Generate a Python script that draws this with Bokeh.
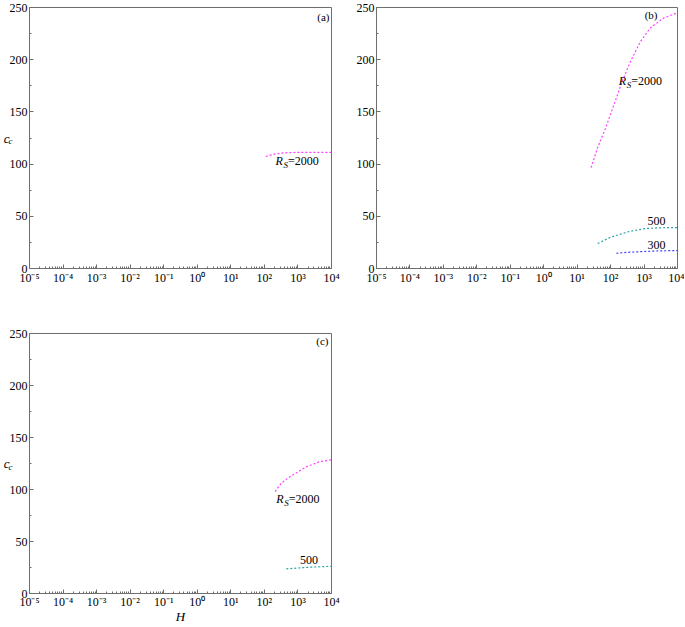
from bokeh.plotting import figure
from bokeh.models import Label, FixedTicker, CustomJSTickFormatter, Range1d, LinearAxis
from bokeh.layouts import column, row
from bokeh.embed import file_html
from bokeh.resources import INLINE

# ---------------- data ----------------
a_H_2000 = [110, 150, 200, 300, 500, 1000, 3000, 10000]
a_cc_2000 = [107.3, 108.6, 109.6, 110.5, 111.0, 111.2, 111.3, 111.3]

b_H_2000 = [26, 41, 72, 126, 224, 398, 794, 1550, 3890, 10000]
b_cc_2000 = [96.6, 115.8, 135.0, 157.0, 179.5, 198.7, 217.8, 230.6, 240.0, 245.0]
b_H_500 = [41, 100, 355, 1100, 3000, 10000]
b_cc_500 = [23.9, 30.0, 35.4, 38.3, 39.0, 39.2]
b_H_300 = [148, 300, 1000, 3000, 10000]
b_cc_300 = [14.6, 15.4, 16.3, 16.9, 17.2]

c_H_2000 = [210, 316, 590, 1820, 4470, 10000]
c_cc_2000 = [98.0, 106.0, 112.5, 122.0, 126.8, 128.5]
c_H_500 = [450, 2000, 10000]
c_cc_500 = [23.7, 25.2, 26.2]

x_decades = list(range(-5, 5))
y_ticks = [0, 50, 100, 150, 200, 250]
y_minor = [25, 75, 125, 175, 225]
panel_names = ["(a)", "(b)", "(c)"]
y_title = ("c", "c")      # main letter, subscript
x_title = "H"

FONT = "Liberation Serif"
AXIS_COL = "#6e6e6e"
MAGENTA = "#FF40FF"
TEAL = "#2AA5A5"
BLUE = "#4040FF"

SUP_CODE = r"""
const sup = {"-": "\u207b", "0": "\u2070", "1": "\u00b9", "2": "\u00b2", "3": "\u00b3",
             "4": "\u2074", "5": "\u2075", "6": "\u2076", "7": "\u2077", "8": "\u2078", "9": "\u2079"};
const e = Math.round(Math.log10(tick));
let s = "";
for (const c of String(e)) { s += sup[c]; }
return "10" + s;
"""


def make_panel(w, h, br, bb, with_ylabel):
    p = figure(width=w, height=h, x_axis_type="log",
               x_range=Range1d(10.0 ** x_decades[0], 10.0 ** x_decades[-1]),
               y_range=Range1d(y_ticks[0], y_ticks[-1]),
               output_backend="svg", toolbar_location=None,
               min_border_left=0, min_border_right=br,
               min_border_top=7, min_border_bottom=bb)
    p.grid.visible = False
    p.outline_line_color = AXIS_COL
    p.outline_line_width = 1
    p.background_fill_color = "white"
    p.border_fill_color = "white"

    xt = [10.0 ** k for k in x_decades]
    xm = [m * 10.0 ** k for k in x_decades[:-1] for m in range(2, 10)]
    xa = p.xaxis[0]
    xa.ticker = FixedTicker(ticks=xt, minor_ticks=xm)
    xa.formatter = CustomJSTickFormatter(code=SUP_CODE)
    ya = p.yaxis[0]
    ya.ticker = FixedTicker(ticks=y_ticks, minor_ticks=y_minor)
    for ax in (xa, ya):
        ax.axis_line_color = AXIS_COL
        ax.major_tick_line_color = AXIS_COL
        ax.minor_tick_line_color = AXIS_COL
        ax.major_tick_in = 4
        ax.major_tick_out = 0
        ax.minor_tick_in = 2
        ax.minor_tick_out = 0
        ax.major_label_text_font = FONT
        ax.major_label_text_font_size = "12px"
        ax.major_label_text_color = "black"
        ax.major_label_standoff = 2

    if with_ylabel:
        # c_c : main letter as the axis title, subscript as a single tick label
        sub_y = 122
        lab = LinearAxis(ticker=FixedTicker(ticks=[sub_y], minor_ticks=[]),
                         major_label_overrides={sub_y: y_title[1]},
                         axis_label=y_title[0], axis_label_orientation="horizontal",
                         axis_line_color=None, major_tick_line_color=None,
                         minor_tick_line_color=None,
                         major_tick_in=0, major_tick_out=0, minor_tick_in=0, minor_tick_out=0,
                         major_label_standoff=-6, axis_label_standoff=-4,
                         major_label_text_font=FONT, major_label_text_font_size="9px",
                         major_label_text_font_style="italic", major_label_text_color="black",
                         axis_label_text_font=FONT, axis_label_text_font_size="13px",
                         axis_label_text_font_style="italic", axis_label_text_color="black")
        p.add_layout(lab, "left")
    return p


def txt(p, x, y, text, size="12px", style="normal", xo=0, yo=0, align="left"):
    p.add_layout(Label(x=x, y=y, x_offset=xo, y_offset=yo, text=text,
                       text_font=FONT, text_font_size=size, text_font_style=style,
                       text_color="black", text_align=align, text_baseline="middle"))


def rs_label(p, x, y):
    txt(p, x, y, "R", style="italic")
    txt(p, x, y, "S", size="9px", style="italic", xo=8, yo=-4)
    txt(p, x, y, "=2000", xo=12.5)


DASH = "2 2"
LW = 1.2

# ---------------- panel (a) ----------------
pa = make_panel(353, 326, 22, 58, True)
pa.line(a_H_2000, a_cc_2000, line_color=MAGENTA, line_dash=DASH, line_width=LW)
rs_label(pa, 214, 102.8)
txt(pa, 1e4, 250, panel_names[0], size="11px", xo=-2, yo=-9, align="right")

# ---------------- panel (b) ----------------
pb = make_panel(331, 326, 7, 58, False)
pb.line(b_H_2000, b_cc_2000, line_color=MAGENTA, line_dash=DASH, line_width=LW)
pb.line(b_H_500, b_cc_500, line_color=TEAL, line_dash=DASH, line_width=LW)
pb.line(b_H_300, b_cc_300, line_color=BLUE, line_dash=DASH, line_width=LW)
rs_label(pb, 176, 179.5)
txt(pb, 1260, 45.3, "500")
txt(pb, 1260, 22.3, "300")
txt(pb, 1e4, 250, panel_names[1], size="11px", xo=-20, yo=-7, align="right")

# ---------------- panel (c) ----------------
pc = make_panel(353, 300, 22, 33, True)
pc.line(c_H_2000, c_cc_2000, line_color=MAGENTA, line_dash=DASH, line_width=LW)
pc.line(c_H_500, c_cc_500, line_color=TEAL, line_dash=DASH, line_width=LW)
rs_label(pc, 224, 91)
txt(pc, 1150, 31.9, "500")
txt(pc, 1e4, 250, panel_names[2], size="11px", xo=-3, yo=-7.5, align="right")
pc.xaxis[0].axis_label = x_title
pc.xaxis[0].axis_label_text_font = FONT
pc.xaxis[0].axis_label_text_font_size = "13px"
pc.xaxis[0].axis_label_text_font_style = "italic"
pc.xaxis[0].axis_label_text_color = "black"
pc.xaxis[0].axis_label_standoff = -3
pc.xaxis[0].major_label_standoff = 1

layout = column(row(pa, pb), pc)
open("out.html", "w").write(file_html(layout, INLINE))
